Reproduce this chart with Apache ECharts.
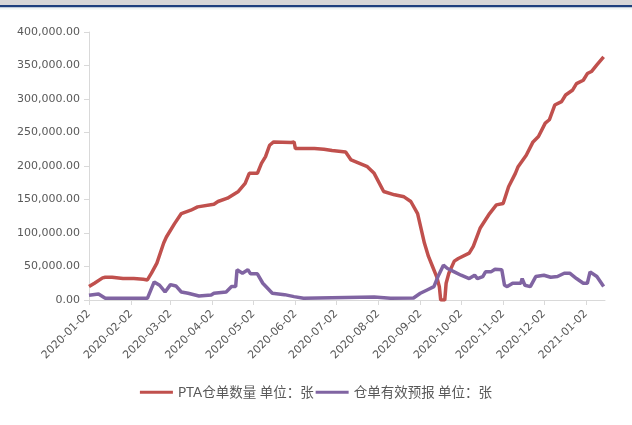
<!DOCTYPE html>
<html>
<head>
<meta charset="utf-8">
<script src="https://cdn.jsdelivr.net/npm/echarts@6/dist/echarts.min.js"></script>
<style>
html,body{margin:0;padding:0;background:#fff;}
#c{width:632px;height:425px;}
</style>
</head>
<body>
<div id="c"></div>
<script>
var seriesNames = ['PTA仓单数量 单位：张', '仓单有效预报 单位：张'];

var ptaDates = ['2020-01-02','2020-01-06','2020-01-12','2020-01-14','2020-01-19','2020-01-27','2020-02-04','2020-02-11','2020-02-14','2020-02-17','2020-02-21','2020-02-26','2020-02-28','2020-03-05','2020-03-10','2020-03-17','2020-03-22','2020-04-03','2020-04-06','2020-04-13','2020-04-21','2020-04-26','2020-04-29','2020-05-05','2020-05-08','2020-05-11','2020-05-14','2020-05-17','2020-05-30','2020-06-01','2020-06-02','2020-06-16','2020-06-23','2020-06-29','2020-07-09','2020-07-13','2020-07-25','2020-07-30','2020-08-06','2020-08-14','2020-08-21','2020-08-26','2020-08-31','2020-09-05','2020-09-08','2020-09-11','2020-09-14','2020-09-16','2020-09-17','2020-09-20','2020-09-21','2020-09-23','2020-09-27','2020-09-30','2020-10-08','2020-10-11','2020-10-16','2020-10-23','2020-10-28','2020-11-02','2020-11-06','2020-11-11','2020-11-13','2020-11-19','2020-11-24','2020-11-28','2020-12-03','2020-12-06','2020-12-10','2020-12-15','2020-12-18','2020-12-23','2020-12-26','2020-12-31','2021-01-03','2021-01-06','2021-01-10','2021-01-15'];
var ptaValues = [20000,25000,33000,34000,34000,32000,32000,31000,30000,40000,55000,85000,94000,114000,129000,134000,139000,143000,147000,152000,162000,174000,189000,189000,204000,214000,231000,236000,235000,236000,226000,226000,225000,223000,221000,209000,199000,189000,162000,157000,154000,147000,129000,85000,65000,50000,35000,20000,0,0,25000,40000,58000,62000,70000,80000,107000,129000,142000,144000,169000,189000,199000,216000,236000,244000,264000,269000,291000,296000,306000,313000,323000,328000,338000,341000,351000,363000];

var fcDates = ['2020-01-02','2020-01-09','2020-01-14','2020-02-14','2020-02-19','2020-02-23','2020-02-27','2020-03-02','2020-03-06','2020-03-10','2020-03-15','2020-03-23','2020-04-01','2020-04-03','2020-04-12','2020-04-16','2020-04-19','2020-04-20','2020-04-24','2020-04-28','2020-04-30','2020-05-05','2020-05-09','2020-05-16','2020-05-25','2020-06-01','2020-06-08','2020-07-30','2020-08-11','2020-08-28','2020-09-02','2020-09-07','2020-09-12','2020-09-15','2020-09-19','2020-09-22','2020-09-27','2020-10-02','2020-10-08','2020-10-12','2020-10-14','2020-10-18','2020-10-20','2020-10-24','2020-10-27','2020-11-01','2020-11-03','2020-11-05','2020-11-09','2020-11-15','2020-11-16','2020-11-18','2020-11-22','2020-11-26','2020-12-02','2020-12-07','2020-12-12','2020-12-17','2020-12-21','2020-12-26','2020-12-31','2021-01-03','2021-01-05','2021-01-10','2021-01-15'];
var fcValues = [7000,9000,2500,2500,27000,22000,12000,23000,21000,12000,10000,6000,7500,10000,12000,20000,20000,45000,40000,45000,39000,39000,25000,10000,8000,5000,2500,4500,2500,3000,10000,15000,20000,35000,52000,47000,42000,37000,32000,37000,32000,35000,42000,42000,46000,45000,22000,20000,25000,25000,32000,22000,20000,35000,37000,34000,35000,40000,40000,32000,25000,25000,42000,35000,20000];

var tickDates = ['2020-01-02','2020-02-02','2020-03-02','2020-04-02','2020-05-02','2020-06-02','2020-07-02','2020-08-02','2020-09-02','2020-10-02','2020-11-02','2020-12-02','2021-01-02'];
var axisStart = '2020-01-02';
var axisEnd = '2021-01-16';

function ts(s){ return Date.UTC(+s.slice(0,4), +s.slice(5,7)-1, +s.slice(8,10)); }
function pairs(ds, vs){ return ds.map(function(d,i){ return [ts(d), vs[i]]; }); }
function pad(n){ return (n<10?'0':'')+n; }
function fmtDate(v){ var d=new Date(v); return d.getUTCFullYear()+'-'+pad(d.getUTCMonth()+1)+'-'+pad(d.getUTCDate()); }
function fmtNum(v){ return v.toLocaleString('en-US',{minimumFractionDigits:2,maximumFractionDigits:2}); }

var tickTs = tickDates.map(ts);
var chart = echarts.init(document.getElementById('c'), null, {renderer:'canvas'});
var axisFont = '"DejaVu Sans", sans-serif';
var legendFont = 'Lato, "Noto Sans CJK SC", sans-serif';
chart.setOption({
  animation:false,
  backgroundColor:'#ffffff',
  graphic:[
    {type:'rect', shape:{x:0,y:0,width:632,height:5}, style:{fill:'#d6d6d6'}, silent:true},
    {type:'rect', shape:{x:0,y:5,width:632,height:2.5}, style:{fill:'#1d3f7c'}, silent:true},
    {type:'rect', shape:{x:0,y:7.5,width:632,height:2}, style:{fill:'#eef4f2'}, silent:true}
  ],
  grid:{left:89, right:27, top:32, bottom:125, containLabel:false},
  legend:{
    bottom:21, left:'center', icon:'rect', itemWidth:33, itemHeight:3, itemGap:2,
    textStyle:{color:'#595959', fontSize:13.5, fontFamily:legendFont},
    data:seriesNames
  },
  xAxis:{
    type:'value', min:ts(axisStart), max:ts(axisEnd),
    axisLine:{show:true, lineStyle:{color:'#d9d9d9', width:1}},
    axisTick:{show:true, length:5, lineStyle:{color:'#d9d9d9'}, customValues:tickTs},
    axisLabel:{rotate:45, color:'#595959', fontSize:11, fontFamily:axisFont, margin:12, customValues:tickTs, formatter:function(v){ return fmtDate(v); }},
    splitLine:{show:false}
  },
  yAxis:{
    type:'value', min:0, max:400000, interval:50000,
    axisLine:{show:true, lineStyle:{color:'#d9d9d9', width:1}},
    axisTick:{show:true, length:5, lineStyle:{color:'#d9d9d9'}},
    axisLabel:{color:'#595959', fontSize:11, fontFamily:axisFont, margin:9, formatter:function(v){ return fmtNum(v); }},
    splitLine:{show:false}
  },
  series:[
    {name:seriesNames[0], type:'line', data:pairs(ptaDates, ptaValues), showSymbol:false, symbol:'none',
     lineStyle:{color:'#c0504d', width:3.5}, itemStyle:{color:'#c0504d'}},
    {name:seriesNames[1], type:'line', data:pairs(fcDates, fcValues), showSymbol:false, symbol:'none',
     lineStyle:{color:'#8064a2', width:3.5}, itemStyle:{color:'#8064a2'}}
  ]
});
</script>
</body>
</html>
